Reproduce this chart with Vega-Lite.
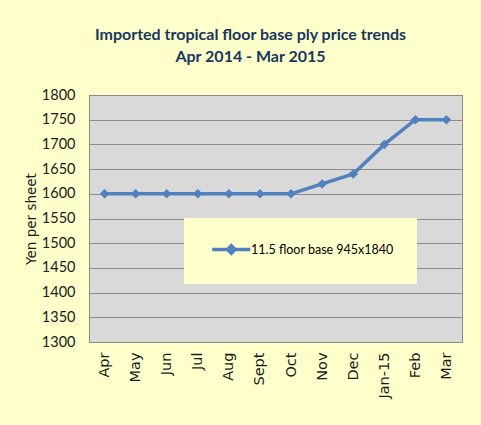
{
  "$schema": "https://vega.github.io/schema/vega-lite/v6.json",
  "width": 373,
  "height": 247,
  "autosize": "none",
  "padding": {"left": 89, "top": 95, "right": 19, "bottom": 83},
  "background": "#FFFFCC",
  "title": {
    "text": ["Imported tropical floor base ply price trends", "Apr 2014 - Mar 2015"],
    "font": "Lato",
    "fontSize": 16,
    "fontWeight": "bold",
    "color": "#17375E",
    "anchor": "middle",
    "dx": -25,
    "offset": 22,
    "lineHeight": 22
  },
  "data": {
    "values": [
      {"month": "Apr", "price": 1600, "series": "11.5 floor base 945x1840"},
      {"month": "May", "price": 1600, "series": "11.5 floor base 945x1840"},
      {"month": "Jun", "price": 1600, "series": "11.5 floor base 945x1840"},
      {"month": "Jul", "price": 1600, "series": "11.5 floor base 945x1840"},
      {"month": "Aug", "price": 1600, "series": "11.5 floor base 945x1840"},
      {"month": "Sept", "price": 1600, "series": "11.5 floor base 945x1840"},
      {"month": "Oct", "price": 1600, "series": "11.5 floor base 945x1840"},
      {"month": "Nov", "price": 1620, "series": "11.5 floor base 945x1840"},
      {"month": "Dec", "price": 1640, "series": "11.5 floor base 945x1840"},
      {"month": "Jan-15", "price": 1700, "series": "11.5 floor base 945x1840"},
      {"month": "Feb", "price": 1750, "series": "11.5 floor base 945x1840"},
      {"month": "Mar", "price": 1750, "series": "11.5 floor base 945x1840"}
    ]
  },
  "mark": {
    "type": "line",
    "strokeWidth": 3.5,
    "point": {"shape": "diamond", "size": 90, "filled": true, "color": "#4F81BD", "opacity": 1}
  },
  "encoding": {
    "x": {
      "field": "month",
      "type": "ordinal",
      "sort": null,
      "scale": {"type": "point", "padding": 0.5},
      "axis": {
        "title": null,
        "labelAngle": -90,
        "labelFont": "DejaVu Sans",
        "labelFontSize": 14.5,
        "labelColor": "#1A1A1A",
        "labelPadding": 10,
        "ticks": false,
        "domain": false,
        "grid": false
      }
    },
    "y": {
      "field": "price",
      "type": "quantitative",
      "scale": {"domain": [1300, 1800], "zero": false, "nice": false},
      "axis": {
        "title": "Yen per sheet",
        "titleFont": "DejaVu Sans",
        "titleFontSize": 13.5,
        "titleFontWeight": "normal",
        "titleColor": "#1A1A1A",
        "titlePadding": 3,
        "format": "d",
        "values": [1300, 1350, 1400, 1450, 1500, 1550, 1600, 1650, 1700, 1750, 1800],
        "labelFont": "Lato",
        "labelFontSize": 14.5,
        "labelColor": "#1A1A1A",
        "labelPadding": 14,
        "ticks": false,
        "domain": false,
        "grid": true,
        "gridColor": "#8C8C8C",
        "gridWidth": 1
      }
    },
    "color": {
      "field": "series",
      "type": "nominal",
      "scale": {"range": ["#4F81BD"]},
      "legend": {
        "title": null,
        "orient": "none",
        "legendX": 95,
        "legendY": 123,
        "direction": "vertical",
        "fillColor": "#FFFFCC",
        "padding": 23,
        "symbolType": "M-0.52,0L5.5,0M1.9,0L2.5,-0.6L3.1,0L2.5,0.6Z",
        "symbolSize": 160,
        "symbolStrokeWidth": 3.5,
        "symbolFillColor": "#4F81BD",
        "symbolStrokeColor": "#4F81BD",
        "labelFont": "Lato",
        "labelFontSize": 12.5,
        "labelColor": "#000000",
        "labelOffset": 27,
        "labelLimit": 300
      }
    }
  },
  "config": {
    "view": {"fill": "#D9D9D9", "stroke": "#8C8C8C", "strokeWidth": 1}
  }
}
